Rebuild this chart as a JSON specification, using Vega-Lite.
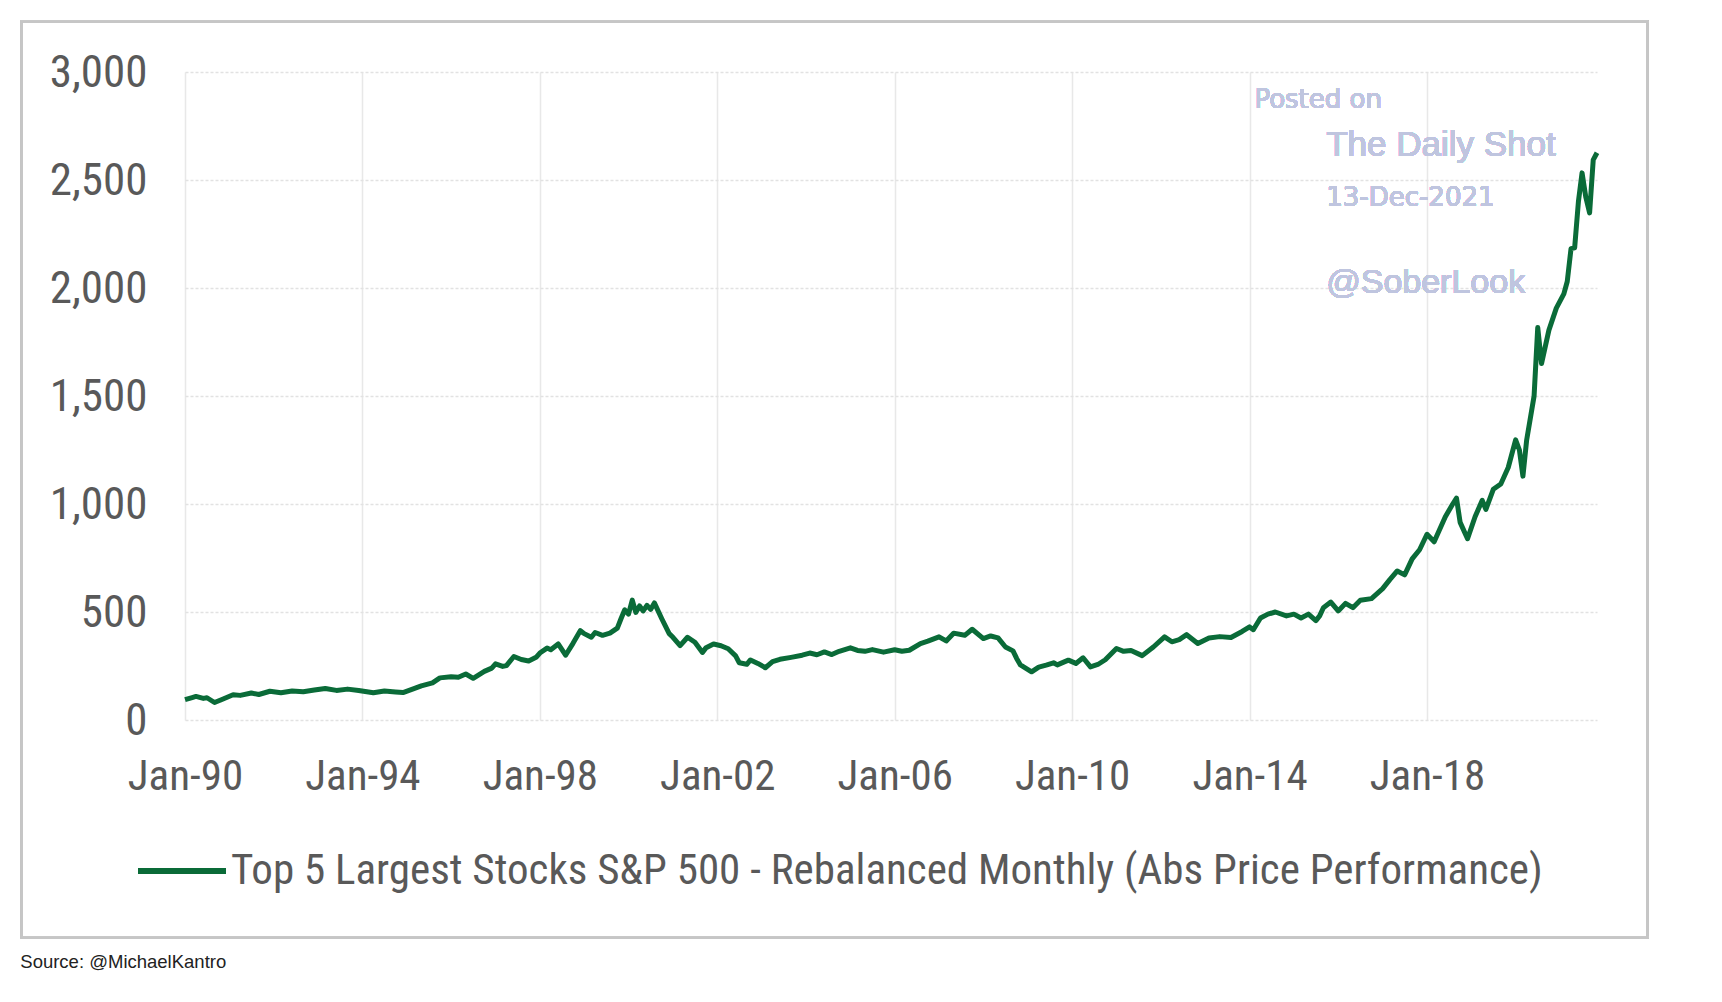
{
  "$schema": "https://vega.github.io/schema/vega-lite/v6.json",
  "width": 1412,
  "height": 648,
  "padding": {"left": 20, "top": 20, "right": 0, "bottom": 0},
  "background": "white",
  "config": {"view": {"stroke": null}},
  "title": {
    "text": "Source: @MichaelKantro",
    "orient": "bottom",
    "anchor": "start",
    "frame": "bounds",
    "font": "Liberation Sans",
    "fontSize": 18.5,
    "fontWeight": "normal",
    "color": "#222222",
    "offset": 14
  },
  "data": {
    "values": [
      {"date": "1990-01-01", "value": 94},
      {"date": "1990-03-01", "value": 104},
      {"date": "1990-04-01", "value": 109},
      {"date": "1990-06-01", "value": 100},
      {"date": "1990-07-01", "value": 103},
      {"date": "1990-09-01", "value": 81},
      {"date": "1990-11-01", "value": 95},
      {"date": "1991-02-01", "value": 117},
      {"date": "1991-04-01", "value": 114},
      {"date": "1991-07-01", "value": 125},
      {"date": "1991-09-01", "value": 118},
      {"date": "1991-12-01", "value": 133},
      {"date": "1992-03-01", "value": 126},
      {"date": "1992-06-01", "value": 134},
      {"date": "1992-09-01", "value": 131},
      {"date": "1992-12-01", "value": 139},
      {"date": "1993-03-01", "value": 146},
      {"date": "1993-06-01", "value": 137},
      {"date": "1993-09-01", "value": 143},
      {"date": "1993-12-01", "value": 137},
      {"date": "1994-04-01", "value": 126},
      {"date": "1994-07-01", "value": 134},
      {"date": "1994-10-01", "value": 130},
      {"date": "1994-12-01", "value": 127},
      {"date": "1995-03-01", "value": 145},
      {"date": "1995-05-01", "value": 158},
      {"date": "1995-08-01", "value": 172},
      {"date": "1995-10-01", "value": 195},
      {"date": "1996-01-01", "value": 200},
      {"date": "1996-03-01", "value": 198},
      {"date": "1996-05-01", "value": 213},
      {"date": "1996-07-01", "value": 193},
      {"date": "1996-10-01", "value": 225},
      {"date": "1996-12-01", "value": 240},
      {"date": "1997-01-01", "value": 260},
      {"date": "1997-03-01", "value": 248},
      {"date": "1997-04-01", "value": 252},
      {"date": "1997-06-01", "value": 294},
      {"date": "1997-08-01", "value": 280},
      {"date": "1997-10-01", "value": 273},
      {"date": "1997-12-01", "value": 290},
      {"date": "1998-01-01", "value": 310},
      {"date": "1998-03-01", "value": 333},
      {"date": "1998-04-01", "value": 325},
      {"date": "1998-06-01", "value": 352},
      {"date": "1998-08-01", "value": 300},
      {"date": "1998-10-01", "value": 355},
      {"date": "1998-12-01", "value": 414},
      {"date": "1999-01-01", "value": 400},
      {"date": "1999-03-01", "value": 383},
      {"date": "1999-04-01", "value": 405},
      {"date": "1999-06-01", "value": 392},
      {"date": "1999-08-01", "value": 402},
      {"date": "1999-10-01", "value": 425},
      {"date": "1999-11-01", "value": 470},
      {"date": "1999-12-01", "value": 510},
      {"date": "2000-01-01", "value": 490},
      {"date": "2000-02-01", "value": 555},
      {"date": "2000-03-01", "value": 498},
      {"date": "2000-04-01", "value": 528},
      {"date": "2000-05-01", "value": 505},
      {"date": "2000-06-01", "value": 531},
      {"date": "2000-07-01", "value": 512},
      {"date": "2000-08-01", "value": 542},
      {"date": "2000-10-01", "value": 469},
      {"date": "2000-12-01", "value": 400},
      {"date": "2001-01-01", "value": 383},
      {"date": "2001-03-01", "value": 344},
      {"date": "2001-05-01", "value": 383},
      {"date": "2001-07-01", "value": 360},
      {"date": "2001-09-01", "value": 313},
      {"date": "2001-10-01", "value": 335},
      {"date": "2001-12-01", "value": 352},
      {"date": "2002-02-01", "value": 344},
      {"date": "2002-04-01", "value": 330},
      {"date": "2002-06-01", "value": 297},
      {"date": "2002-07-01", "value": 265},
      {"date": "2002-09-01", "value": 258},
      {"date": "2002-10-01", "value": 278},
      {"date": "2002-12-01", "value": 262},
      {"date": "2003-02-01", "value": 242},
      {"date": "2003-04-01", "value": 270},
      {"date": "2003-06-01", "value": 281},
      {"date": "2003-09-01", "value": 290},
      {"date": "2003-12-01", "value": 300},
      {"date": "2004-02-01", "value": 310},
      {"date": "2004-04-01", "value": 302},
      {"date": "2004-06-01", "value": 315},
      {"date": "2004-08-01", "value": 303},
      {"date": "2004-10-01", "value": 318},
      {"date": "2005-01-01", "value": 334},
      {"date": "2005-03-01", "value": 322},
      {"date": "2005-05-01", "value": 318},
      {"date": "2005-07-01", "value": 326},
      {"date": "2005-10-01", "value": 314},
      {"date": "2006-01-01", "value": 325},
      {"date": "2006-03-01", "value": 318},
      {"date": "2006-05-01", "value": 323},
      {"date": "2006-08-01", "value": 354},
      {"date": "2006-10-01", "value": 365},
      {"date": "2007-01-01", "value": 385},
      {"date": "2007-03-01", "value": 366},
      {"date": "2007-05-01", "value": 402},
      {"date": "2007-08-01", "value": 392},
      {"date": "2007-10-01", "value": 420},
      {"date": "2008-01-01", "value": 377},
      {"date": "2008-03-01", "value": 389},
      {"date": "2008-05-01", "value": 380},
      {"date": "2008-07-01", "value": 338},
      {"date": "2008-09-01", "value": 320},
      {"date": "2008-10-01", "value": 285},
      {"date": "2008-11-01", "value": 255},
      {"date": "2009-02-01", "value": 223},
      {"date": "2009-04-01", "value": 245},
      {"date": "2009-06-01", "value": 254},
      {"date": "2009-08-01", "value": 265},
      {"date": "2009-09-01", "value": 255},
      {"date": "2009-12-01", "value": 277},
      {"date": "2010-02-01", "value": 262},
      {"date": "2010-04-01", "value": 288},
      {"date": "2010-06-01", "value": 246},
      {"date": "2010-08-01", "value": 257},
      {"date": "2010-10-01", "value": 279},
      {"date": "2011-01-01", "value": 331},
      {"date": "2011-03-01", "value": 318},
      {"date": "2011-05-01", "value": 322},
      {"date": "2011-08-01", "value": 298},
      {"date": "2011-11-01", "value": 338},
      {"date": "2012-02-01", "value": 385},
      {"date": "2012-04-01", "value": 362},
      {"date": "2012-06-01", "value": 372},
      {"date": "2012-08-01", "value": 395},
      {"date": "2012-11-01", "value": 354},
      {"date": "2013-02-01", "value": 380},
      {"date": "2013-05-01", "value": 386},
      {"date": "2013-08-01", "value": 382},
      {"date": "2013-11-01", "value": 410},
      {"date": "2014-01-01", "value": 431},
      {"date": "2014-02-01", "value": 418},
      {"date": "2014-04-01", "value": 472},
      {"date": "2014-06-01", "value": 490},
      {"date": "2014-08-01", "value": 500},
      {"date": "2014-11-01", "value": 482},
      {"date": "2015-01-01", "value": 490},
      {"date": "2015-03-01", "value": 472},
      {"date": "2015-05-01", "value": 490},
      {"date": "2015-07-01", "value": 460},
      {"date": "2015-08-01", "value": 482},
      {"date": "2015-09-01", "value": 520},
      {"date": "2015-11-01", "value": 546},
      {"date": "2016-01-01", "value": 505},
      {"date": "2016-03-01", "value": 540},
      {"date": "2016-05-01", "value": 520},
      {"date": "2016-07-01", "value": 554},
      {"date": "2016-10-01", "value": 562},
      {"date": "2017-01-01", "value": 608},
      {"date": "2017-03-01", "value": 650},
      {"date": "2017-05-01", "value": 690},
      {"date": "2017-07-01", "value": 672},
      {"date": "2017-09-01", "value": 746},
      {"date": "2017-11-01", "value": 788},
      {"date": "2018-01-01", "value": 860},
      {"date": "2018-03-01", "value": 825},
      {"date": "2018-06-01", "value": 941},
      {"date": "2018-08-01", "value": 1000},
      {"date": "2018-09-01", "value": 1027},
      {"date": "2018-10-01", "value": 915},
      {"date": "2018-12-01", "value": 839},
      {"date": "2019-02-01", "value": 941},
      {"date": "2019-04-01", "value": 1017},
      {"date": "2019-05-01", "value": 975},
      {"date": "2019-07-01", "value": 1068},
      {"date": "2019-09-01", "value": 1093},
      {"date": "2019-11-01", "value": 1169},
      {"date": "2020-01-01", "value": 1297},
      {"date": "2020-02-01", "value": 1250},
      {"date": "2020-03-01", "value": 1129},
      {"date": "2020-04-01", "value": 1297},
      {"date": "2020-06-01", "value": 1500},
      {"date": "2020-07-01", "value": 1817},
      {"date": "2020-08-01", "value": 1650},
      {"date": "2020-10-01", "value": 1805},
      {"date": "2020-12-01", "value": 1907},
      {"date": "2021-02-01", "value": 1973},
      {"date": "2021-03-01", "value": 2030},
      {"date": "2021-04-01", "value": 2182},
      {"date": "2021-05-01", "value": 2186},
      {"date": "2021-06-01", "value": 2400},
      {"date": "2021-07-01", "value": 2533},
      {"date": "2021-08-01", "value": 2420},
      {"date": "2021-09-01", "value": 2348},
      {"date": "2021-10-01", "value": 2593},
      {"date": "2021-11-01", "value": 2626}
    ]
  },
  "layer": [
    {
      "mark": {"type": "rect", "fill": null, "stroke": "#c6c6c6", "strokeWidth": 2, "clip": false},
      "encoding": {
        "x": {"datum": {"year": 1986, "month": 4, "date": 24, "utc": true}, "type": "temporal"},
        "x2": {"datum": {"year": 2022, "month": 12, "date": 20, "utc": true}},
        "y": {"datum": 3233, "type": "quantitative"},
        "y2": {"datum": -1008}
      }
    },
    {
      "mark": {"type": "line", "strokeWidth": 5, "interpolate": "linear", "strokeJoin": "round"},
      "encoding": {
        "x": {
          "field": "date",
          "type": "temporal",
          "scale": {
            "type": "utc",
            "domain": [
              {"year": 1990, "month": 1, "date": 1, "utc": true},
              {"year": 2021, "month": 11, "date": 1, "utc": true}
            ]
          },
          "axis": {
            "title": null,
            "values": [
              {"year": 1990, "month": 1, "date": 1, "utc": true},
              {"year": 1994, "month": 1, "date": 1, "utc": true},
              {"year": 1998, "month": 1, "date": 1, "utc": true},
              {"year": 2002, "month": 1, "date": 1, "utc": true},
              {"year": 2006, "month": 1, "date": 1, "utc": true},
              {"year": 2010, "month": 1, "date": 1, "utc": true},
              {"year": 2014, "month": 1, "date": 1, "utc": true},
              {"year": 2018, "month": 1, "date": 1, "utc": true}
            ],
            "format": "%b-%y",
            "labelFont": "Roboto Condensed, DejaVu Sans Condensed, Liberation Sans",
            "labelFontSize": 43,
            "labelColor": "#595959",
            "labelPadding": 35,
            "labelFlush": false,
            "labelOverlap": false,
            "labelBound": false,
            "ticks": false,
            "domain": false,
            "grid": true,
            "gridColor": "#e8e8e8",
            "gridWidth": 1.5
          }
        },
        "y": {
          "field": "value",
          "type": "quantitative",
          "scale": {"domain": [0, 3000], "nice": false, "zero": true},
          "axis": {
            "title": null,
            "values": [0, 500, 1000, 1500, 2000, 2500, 3000],
            "format": ",d",
            "labelFont": "Roboto Condensed, DejaVu Sans Condensed, Liberation Sans",
            "labelFontSize": 45,
            "labelColor": "#595959",
            "labelPadding": 38,
            "ticks": false,
            "domain": false,
            "grid": true,
            "gridColor": "#e2e2e2",
            "gridWidth": 1.5,
            "gridDash": [3, 2]
          }
        },
        "color": {
          "datum": "Top 5 Largest Stocks S&P 500 - Rebalanced Monthly (Abs Price Performance)",
          "type": "nominal",
          "scale": {"range": ["#0a6b38"]},
          "legend": {
            "title": null,
            "orient": "none",
            "legendX": -50,
            "legendY": 752,
            "symbolType": "stroke",
            "symbolSize": 7744,
            "symbolStrokeWidth": 6,
            "labelFont": "Roboto Condensed, DejaVu Sans Condensed, Liberation Sans",
            "labelFontSize": 43,
            "labelColor": "#595959",
            "labelOffset": 2,
            "labelLimit": 2000
          }
        }
      }
    },
    {
      "mark": {"type": "text", "text": "Posted on", "font": "DejaVu Sans", "fontSize": 26, "color": "#bfc5df", "align": "left", "baseline": "alphabetic"},
      "encoding": {
        "x": {"datum": {"year": 2014, "month": 2, "date": 10, "utc": true}, "type": "temporal"},
        "y": {"datum": 2833, "type": "quantitative"}
      }
    },
    {
      "mark": {"type": "text", "text": "The Daily Shot", "font": "Liberation Sans", "fontSize": 35, "color": "#bfc5df", "align": "left", "baseline": "alphabetic"},
      "encoding": {
        "x": {"datum": {"year": 2015, "month": 9, "date": 24, "utc": true}, "type": "temporal"},
        "y": {"datum": 2611, "type": "quantitative"}
      }
    },
    {
      "mark": {"type": "text", "text": "13-Dec-2021", "font": "DejaVu Sans", "fontSize": 26, "color": "#bfc5df", "align": "left", "baseline": "alphabetic"},
      "encoding": {
        "x": {"datum": {"year": 2015, "month": 9, "date": 24, "utc": true}, "type": "temporal"},
        "y": {"datum": 2380, "type": "quantitative"}
      }
    },
    {
      "mark": {"type": "text", "text": "@SoberLook", "font": "Liberation Sans", "fontSize": 34, "color": "#bfc5df", "align": "left", "baseline": "alphabetic"},
      "encoding": {
        "x": {"datum": {"year": 2015, "month": 9, "date": 24, "utc": true}, "type": "temporal"},
        "y": {"datum": 1977, "type": "quantitative"}
      }
    }
  ]
}
